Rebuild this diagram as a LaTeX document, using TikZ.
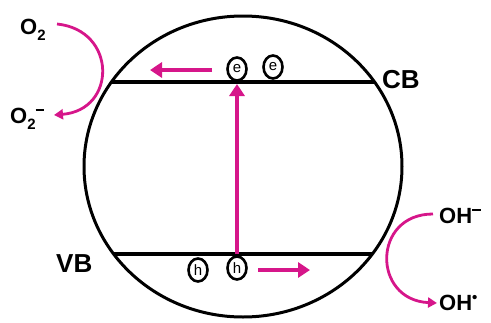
\documentclass[tikz,border=0pt]{standalone}
\usepackage{fontspec}
\setmainfont{Liberation Sans}
\usetikzlibrary{arrows.meta,shapes.geometric}
\definecolor{mag}{RGB}{214,22,138}
\newcommand{\supminus}{\raisebox{0.55em}{\rule{0.4em}{0.09em}}}
\begin{document}
\begin{tikzpicture}[x=1pt,y=-1pt,
  band/.style={line width=4.5pt},
  magarrow/.style={mag,line width=4.5pt,-{Triangle[length=12pt,width=15pt]}},
  curvearrow/.style={mag,line width=2.8pt,-{Triangle[length=9pt,width=10pt]}},
  carrier/.style={draw,ellipse,line width=2.6pt,minimum width=19pt,minimum height=23pt,inner sep=0pt,font=\fontsize{15}{15}\selectfont},
  lbl/.style={anchor=base west,inner sep=0pt,font=\bfseries\fontsize{22}{22}\selectfont},
  biglbl/.style={anchor=base west,inner sep=0pt,font=\bfseries\fontsize{26}{26}\selectfont}]
\useasboundingbox (0,0) rectangle (491,322);
% particle
\draw[line width=3pt] (243,166.5) ellipse [x radius=159, y radius=150.5];
\coordinate (cbl) at (111.5,82);
\coordinate (cbr) at (374.5,82);
\coordinate (vbl) at (113.6,254);
\coordinate (vbr) at (372.4,254);
\draw[band] (cbl) -- (cbr);
\draw[band] (vbl) -- (vbr);
% carriers
\node[carrier] (e1) at (237,69) {e};
\node[carrier] (e2) at (273,67) {e};
\node[carrier] (h1) at (198,270) {h};
\node[carrier] (h2) at (237,268) {h};
% arrows in particle
\coordinate (vbtop) at (237,254);
\coordinate (cbbot) at (237,84);
\draw[magarrow] (vbtop) -- (cbbot);
\coordinate (la1) at (212,70);
\coordinate (la2) at (150,70);
\draw[magarrow] (la1) -- (la2);
\coordinate (ra1) at (258,270);
\coordinate (ra2) at (310,270);
\draw[magarrow] (ra1) -- (ra2);
% labels
\node[biglbl] (cb) at (382,88) {CB};
\node[biglbl] (vb) at (56,272) {VB};
\node[lbl] (o2) at (20,34) {O\raisebox{-0.3em}{\fontsize{15}{15}\selectfont 2}};
\node[lbl] (o2m) at (10,123) {O\raisebox{-0.3em}{\fontsize{15}{15}\selectfont 2}\supminus};
\node[lbl] (ohm) at (439,223) {OH\supminus};
\node[lbl] (ohd) at (439,310) {OH\raisebox{0.35em}{\fontsize{15}{15}\selectfont •}};
% redox arrows
\coordinate (c1s) at (57,24);
\coordinate (c1e) at (54,115);
\draw[curvearrow] (c1s) .. controls (117,30) and (117,110) .. (c1e);
\coordinate (c2s) at (433,214);
\coordinate (c2e) at (437,303);
\draw[curvearrow] (c2s) .. controls (372,214) and (372,300) .. (c2e);
\end{tikzpicture}
\end{document}
